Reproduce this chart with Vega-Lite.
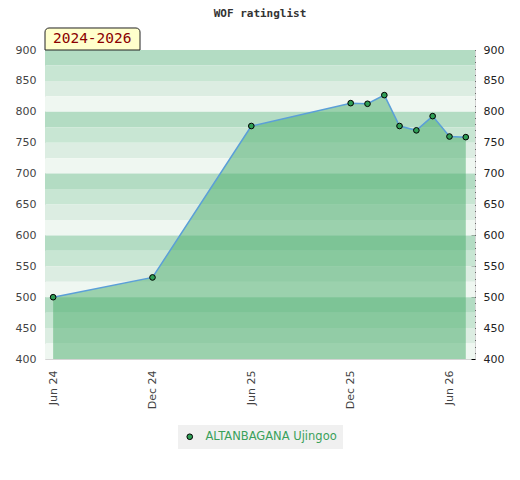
{
  "$schema": "https://vega.github.io/schema/vega-lite/v6.json",
  "autosize": "none",
  "width": 430,
  "height": 309,
  "padding": {"left": 45, "top": 50, "right": 45, "bottom": 121},
  "title": {
    "text": "WOF ratinglist",
    "font": "DejaVu Sans Mono",
    "fontSize": 11,
    "fontWeight": "bold",
    "color": "#333333",
    "offset": 8
  },
  "datasets": {
    "ratings": [
      {"date": "2024-06-01", "rating": 500, "player": "ALTANBAGANA Ujingoo"},
      {"date": "2024-12-01", "rating": 532, "player": "ALTANBAGANA Ujingoo"},
      {"date": "2025-06-01", "rating": 777, "player": "ALTANBAGANA Ujingoo"},
      {"date": "2025-12-01", "rating": 814, "player": "ALTANBAGANA Ujingoo"},
      {"date": "2026-01-01", "rating": 813, "player": "ALTANBAGANA Ujingoo"},
      {"date": "2026-02-01", "rating": 827, "player": "ALTANBAGANA Ujingoo"},
      {"date": "2026-03-01", "rating": 777, "player": "ALTANBAGANA Ujingoo"},
      {"date": "2026-04-01", "rating": 770, "player": "ALTANBAGANA Ujingoo"},
      {"date": "2026-05-01", "rating": 793, "player": "ALTANBAGANA Ujingoo"},
      {"date": "2026-06-01", "rating": 760, "player": "ALTANBAGANA Ujingoo"},
      {"date": "2026-07-01", "rating": 759, "player": "ALTANBAGANA Ujingoo"}
    ],
    "bands": [
      {"low": 875, "high": 900, "tier": "a"},
      {"low": 850, "high": 875, "tier": "b"},
      {"low": 825, "high": 850, "tier": "c"},
      {"low": 800, "high": 825, "tier": "d"},
      {"low": 775, "high": 800, "tier": "a"},
      {"low": 750, "high": 775, "tier": "b"},
      {"low": 725, "high": 750, "tier": "c"},
      {"low": 700, "high": 725, "tier": "d"},
      {"low": 675, "high": 700, "tier": "a"},
      {"low": 650, "high": 675, "tier": "b"},
      {"low": 625, "high": 650, "tier": "c"},
      {"low": 600, "high": 625, "tier": "d"},
      {"low": 575, "high": 600, "tier": "a"},
      {"low": 550, "high": 575, "tier": "b"},
      {"low": 525, "high": 550, "tier": "c"},
      {"low": 500, "high": 525, "tier": "d"},
      {"low": 475, "high": 500, "tier": "a"},
      {"low": 450, "high": 475, "tier": "b"},
      {"low": 425, "high": 450, "tier": "c"},
      {"low": 400, "high": 425, "tier": "d"}
    ]
  },
  "layer": [
    {
      "data": {"name": "bands"},
      "mark": {"type": "rect"},
      "encoding": {
        "y": {
          "field": "low",
          "type": "quantitative",
          "scale": {"domain": [400, 900], "zero": false, "nice": false},
          "axis": {
            "orient": "left",
            "title": null,
            "domain": false,
            "ticks": false,
            "grid": false,
            "tickCount": 10,
            "labelPadding": 9,
            "labelColor": "#444444",
            "labelFont": "DejaVu Sans",
            "labelFontSize": 11
          }
        },
        "y2": {"field": "high"},
        "fill": {
          "field": "tier",
          "type": "nominal",
          "scale": {"domain": ["a", "b", "c", "d"], "range": ["#b3dcc3", "#c8e6d3", "#dcede2", "#eff7f1"]},
          "legend": null
        }
      }
    },
    {
      "data": {"name": "ratings"},
      "mark": {"type": "area", "color": "#47ab69", "opacity": 0.5},
      "encoding": {
        "x": {
          "field": "date",
          "type": "temporal",
          "scale": {
            "type": "utc",
            "domain": [
              {"year": 2024, "month": "may", "date": 17, "utc": true},
              {"year": 2026, "month": "jul", "date": 18, "utc": true}
            ]
          },
          "axis": {
            "title": null,
            "domain": false,
            "ticks": false,
            "grid": false,
            "format": "%b %y",
            "values": [
              {"year": 2024, "month": "jun", "date": 1, "utc": true},
              {"year": 2024, "month": "dec", "date": 1, "utc": true},
              {"year": 2025, "month": "jun", "date": 1, "utc": true},
              {"year": 2025, "month": "dec", "date": 1, "utc": true},
              {"year": 2026, "month": "jun", "date": 1, "utc": true}
            ],
            "labelAngle": -90,
            "labelAlign": "right",
            "labelBaseline": "middle",
            "labelPadding": 11,
            "labelColor": "#444444",
            "labelFont": "DejaVu Sans",
            "labelFontSize": 11
          }
        },
        "y": {"field": "rating", "type": "quantitative", "axis": null},
        "y2": {"datum": 400}
      }
    },
    {
      "data": {"name": "ratings"},
      "transform": [{"filter": "datum.date == '2024-06-01' || datum.date == '2026-07-01'"}],
      "mark": {"type": "rule", "color": "#3aa65a", "strokeWidth": 1.2},
      "encoding": {
        "x": {"field": "date", "type": "temporal"},
        "y": {"field": "rating", "type": "quantitative", "axis": null},
        "y2": {"datum": 400}
      }
    },
    {
      "data": {"name": "ratings"},
      "mark": {"type": "line", "color": "#5b9fd8", "strokeWidth": 1.5},
      "encoding": {
        "x": {"field": "date", "type": "temporal"},
        "y": {
          "field": "rating",
          "type": "quantitative",
          "axis": {
            "orient": "right",
            "title": null,
            "domain": false,
            "grid": false,
            "tickCount": 50,
            "tickSize": 4,
            "tickColor": "#000000",
            "offset": -4,
            "labelPadding": 8,
            "labelExpr": "datum.value % 50 == 0 ? datum.label : ''",
            "labelColor": "#222222",
            "labelFont": "DejaVu Sans",
            "labelFontSize": 11
          }
        }
      }
    },
    {
      "data": {"name": "ratings"},
      "mark": {"type": "point", "filled": true, "shape": "circle", "stroke": "#000000", "strokeWidth": 1, "size": 32, "opacity": 1},
      "encoding": {
        "x": {"field": "date", "type": "temporal"},
        "y": {"field": "rating", "type": "quantitative", "axis": null},
        "color": {
          "field": "player",
          "type": "nominal",
          "scale": {"range": ["#2f9e55"]},
          "legend": {
            "title": null,
            "orient": "bottom",
            "offset": 16,
            "fillColor": "#f0f0f0",
            "padding": 6,
            "labelColor": "#3aa05a",
            "labelFont": "DejaVu Sans",
            "labelFontSize": 11.5,
            "labelOffset": 10,
            "symbolType": "circle",
            "symbolSize": 32,
            "symbolStrokeColor": "#000000",
            "symbolStrokeWidth": 1,
            "symbolOpacity": 1
          }
        }
      }
    },
    {
      "data": {"values": [{}]},
      "mark": {"type": "rect", "fill": "#ffffcc", "stroke": "#222222", "strokeWidth": 1, "cornerRadiusTopLeft": 4, "cornerRadiusTopRight": 4},
      "encoding": {
        "x": {"datum": {"year": 2024, "month": "may", "date": 17, "utc": true}, "type": "temporal"},
        "x2": {"datum": {"year": 2024, "month": "nov", "date": 8, "utc": true}},
        "y": {"datum": 900, "type": "quantitative", "axis": null},
        "y2": {"datum": 935.6}
      }
    },
    {
      "data": {"values": [{}]},
      "mark": {"type": "text", "text": "2024-2026", "color": "#8b0000", "font": "DejaVu Sans Mono", "fontSize": 14.5, "baseline": "middle", "align": "center"},
      "encoding": {
        "x": {"datum": {"year": 2024, "month": "aug", "date": 12, "utc": true}, "type": "temporal"},
        "y": {"datum": 918, "type": "quantitative", "axis": null}
      }
    }
  ],
  "resolve": {"axis": {"y": "independent"}},
  "config": {
    "view": {"stroke": "#d4d4d4", "strokeWidth": 1},
    "legend": {"layout": {"bottom": {"anchor": "middle"}}}
  }
}
